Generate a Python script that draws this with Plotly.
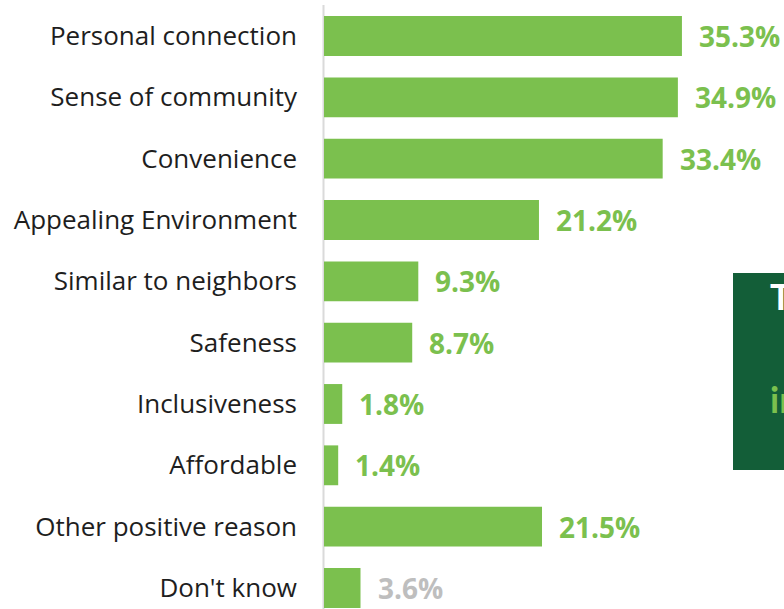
import plotly.graph_objects as go

# Reasons given, share of respondents (%)
categories = [
    "Personal connection",
    "Sense of community",
    "Convenience",
    "Appealing Environment",
    "Similar to neighbors",
    "Safeness",
    "Inclusiveness",
    "Affordable",
    "Other positive reason",
    "Don't know",
]
values = [35.3, 34.9, 33.4, 21.2, 9.3, 8.7, 1.8, 1.4, 21.5, 3.6]

GREEN = "#7BC04E"
GRAY_TXT = "#BEBEBE"
DARK = "#135E38"
label_colors = [GREEN] * (len(values) - 1) + [GRAY_TXT]

W, H = 784, 609
L = 324
positions = list(range(len(categories)))

fig = go.Figure(
    go.Bar(
        x=values,
        y=positions,
        orientation="h",
        width=0.65,
        marker=dict(color=GREEN, line=dict(width=0)),
        hoverinfo="skip",
    )
)

# value labels at the end of each bar
for i, (v, c) in enumerate(zip(values, label_colors)):
    fig.add_annotation(
        x=v, y=i, xref="x", yref="y",
        text=f"{v}%", showarrow=False,
        xanchor="left", yanchor="middle", xshift=15,
        font=dict(family="Open Sans", size=28, color=c, weight="bold"),
    )

# baseline rule
fig.add_shape(
    type="line", xref="paper", yref="paper",
    x0=-0.5 / (W - L), x1=-0.5 / (W - L),
    y0=0, y1=(H - 5) / H,
    line=dict(color="#DADADA", width=2), layer="below",
)

# callout panel on the right
fig.add_shape(
    type="rect", xref="paper", yref="paper",
    x0=(733 - L) / (W - L), x1=1.02,
    y0=(H - 470) / H, y1=(H - 273) / H,
    fillcolor=DARK, line=dict(width=0), layer="above",
)
fig.add_annotation(
    xref="paper", yref="paper",
    x=(768 - L) / (W - L), y=(H - 296) / H,
    text="T", showarrow=False, xanchor="left", yanchor="middle",
    font=dict(family="Lato", size=36, color="white", weight="bold"),
)
fig.add_annotation(
    xref="paper", yref="paper",
    x=(768 - L) / (W - L), y=(H - 399) / H,
    text="in", showarrow=False, xanchor="left", yanchor="middle",
    font=dict(family="Lato", size=36, color=GREEN, weight="bold"),
)

fig.update_layout(
    width=W, height=H,
    margin=dict(l=L, r=0, t=0, b=0),
    paper_bgcolor="white", plot_bgcolor="white",
    showlegend=False,
    xaxis=dict(range=[0, (W - L) / 10.14], visible=False, fixedrange=True),
    yaxis=dict(
        range=[(H - 36) / 61.33, -36 / 61.33],
        tickvals=positions, ticktext=categories,
        ticks="", showgrid=False, zeroline=False, showline=False,
        ticklabelstandoff=26,
        tickfont=dict(family="Open Sans", size=26, color="#1E1E1E"),
        fixedrange=True,
    ),
)

fig.write_html("out.html")
